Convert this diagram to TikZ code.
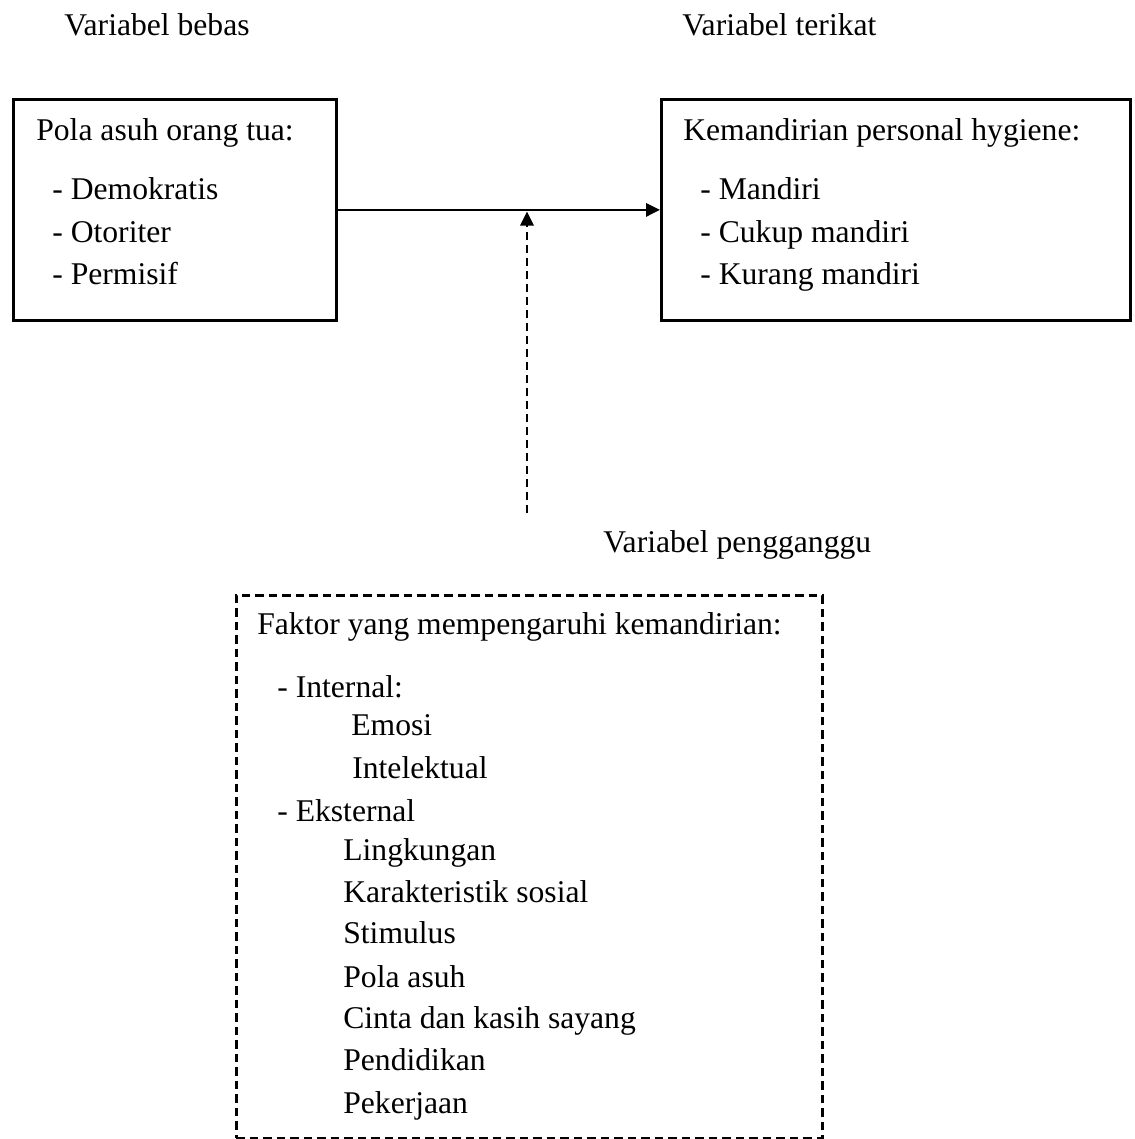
\documentclass[tikz,border=0pt]{standalone}
\usepackage{fontspec}
\setmainfont{Liberation Serif}
\usetikzlibrary{arrows.meta}
\begin{document}
\begin{tikzpicture}[x=0.02cm,y=-0.02cm]
				\tikzstyle{solid box}=[draw,line width=1.6pt,rectangle,inner sep=0,anchor=north west]
				\tikzstyle{dashed box}=[draw,line width=1.6pt,rectangle,inner sep=0,anchor=north west,dash pattern=on 0.17cm off 0.1cm]
				\tikzset{
					txt/.style={anchor=base west,inner sep=0,font=\fontsize{18}{22}\selectfont},
					conn/.style={line width=1pt,-{Triangle[length=0.28cm,width=0.27cm]}}
				}
				\useasboundingbox (0,0) rectangle (1135,1139);
				% judul variabel
				\node(jbebas)[txt] at (64,35){Variabel bebas};
				\node(jterikat)[txt] at (682,35){Variabel terikat};
				\node(jganggu)[txt] at (603,552){Variabel pengganggu};
				% kotak
				\node(bebas)[solid box,minimum width=6.46cm,minimum height=4.42cm] at (12,98){};
				\node(terikat)[solid box,minimum width=9.38cm,minimum height=4.42cm] at (660,98){};
				\node(ganggu)[dashed box,minimum width=11.72cm,minimum height=10.86cm] at (235,594){};
				% isi kotak bebas
				\node(b0)[txt] at (36,140){Pola asuh orang tua:};
				\node(b1)[txt] at (52,199){- Demokratis};
				\node(b2)[txt] at (52,242){- Otoriter};
				\node(b3)[txt] at (52,284){- Permisif};
				% isi kotak terikat
				\node(t0)[txt] at (683,140){Kemandirian personal hygiene:};
				\node(t1)[txt] at (700,199){- Mandiri};
				\node(t2)[txt] at (700,242){- Cukup mandiri};
				\node(t3)[txt] at (700,284){- Kurang mandiri};
				% isi kotak pengganggu
				\node(g0)[txt] at (257,634){Faktor yang mempengaruhi kemandirian:};
				\node(g1)[txt] at (277,697){- Internal:};
				\node(g2)[txt] at (351,735){Emosi};
				\node(g3)[txt] at (352,778){Intelektual};
				\node(g4)[txt] at (277,821){- Eksternal};
				\node(g5)[txt] at (343,860){Lingkungan};
				\node(g6)[txt] at (343,902){Karakteristik sosial};
				\node(g7)[txt] at (343,943){Stimulus};
				\node(g8)[txt] at (343,987){Pola asuh};
				\node(g9)[txt] at (343,1028){Cinta dan kasih sayang};
				\node(g10)[txt] at (343,1070){Pendidikan};
				\node(g11)[txt] at (343,1113){Pekerjaan};
				% panah
				\coordinate(pangkal) at (527,513);
				\draw[conn](bebas.east)to(terikat.west);
				\draw[conn,dash pattern=on 0.16cm off 0.1cm,shorten >=1pt](pangkal)to(pangkal |- bebas.east);
			\end{tikzpicture}
\end{document}
